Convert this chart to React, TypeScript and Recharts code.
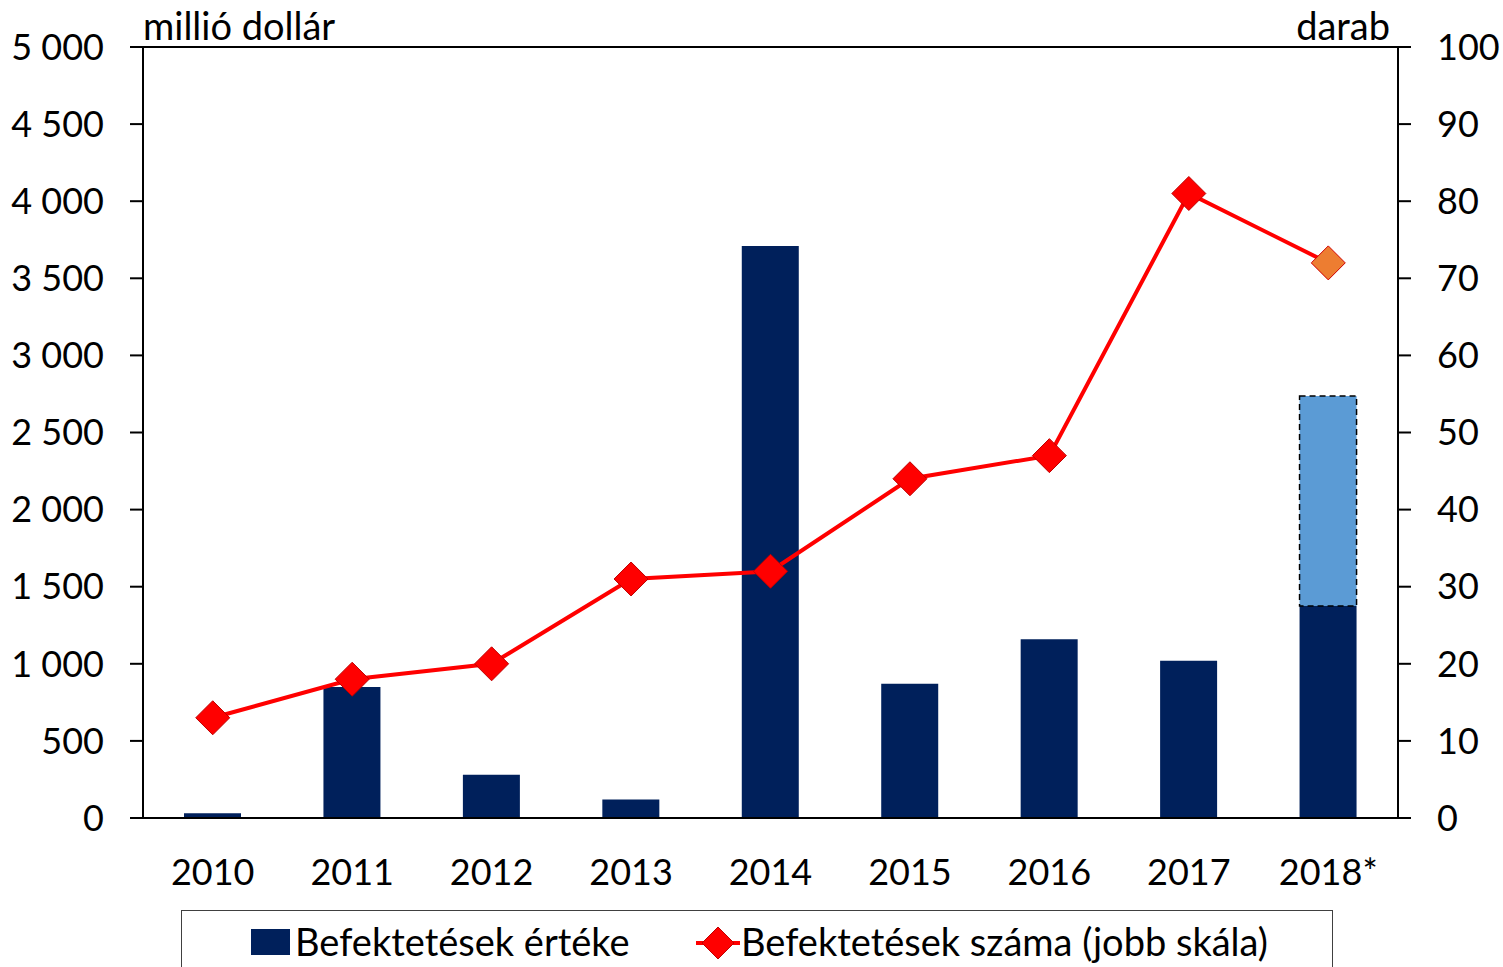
import {
  ComposedChart,
  Bar,
  Line,
  XAxis,
  YAxis,
  CartesianGrid,
  ReferenceLine,
} from 'recharts';

const years: string[] = ['2010', '2011', '2012', '2013', '2014', '2015', '2016', '2017', '2018*'];
// befektetések értéke, millió dollár
const investValue: number[] = [30, 850, 280, 120, 3710, 870, 1160, 1020, 1375];
// 2018 becsült többlet (szaggatott keretes rész)
const investEstimate: (number | null)[] = [null, null, null, null, null, null, null, null, 1362];
// befektetések száma, darab (jobb skála)
const investCount: number[] = [13, 18, 20, 31, 32, 44, 47, 81, 72];

const leftTicks: number[] = [0, 500, 1000, 1500, 2000, 2500, 3000, 3500, 4000, 4500, 5000];
const rightTicks: number[] = [0, 10, 20, 30, 40, 50, 60, 70, 80, 90, 100];

const data = years.map((year, i) => ({
  year,
  value: investValue[i],
  estimate: investEstimate[i],
  count: investCount[i],
}));

const FONT = 'Lato, "Open Sans", sans-serif';
const NAVY = '#00205B';
const RED = '#FF0000';

const fmtThousands = (v: number) => String(v).replace(/\B(?=(\d{3})+(?!\d))/g, ' ');

const Diamond = (props: any) => {
  const { cx, cy, index } = props;
  if (cx == null || cy == null) return null;
  const r = 17;
  const last = index === years.length - 1;
  return (
    <path
      key={`d-${index}`}
      d={`M${cx},${cy - r} L${cx + r},${cy} L${cx},${cy + r} L${cx - r},${cy} Z`}
      fill={last ? '#ED7D31' : RED}
      stroke={last ? '#D00000' : '#C00000'}
      strokeWidth={1}
    />
  );
};

const tickStyle = { fontSize: 36, fontFamily: FONT, fill: '#000' };

export default function App() {
  return (
    <div style={{ position: 'absolute', left: 0, top: 0, width: 1503, height: 967, background: '#fff', fontFamily: FONT }}>
      <ComposedChart
        width={1503}
        height={900}
        data={data}
        margin={{ top: 47, right: 0, bottom: 22, left: 0 }}
      >
        <CartesianGrid vertical={false} stroke="#BFBFBF" strokeDasharray="8 5" strokeWidth={1.5} />
        <XAxis
          dataKey="year"
          height={60}
          tickLine={false}
          tickSize={0}
          tickMargin={41}
          axisLine={{ stroke: '#000', strokeWidth: 2 }}
          tick={tickStyle}
          interval={0}
        />
        <YAxis
          yAxisId="left"
          width={143}
          domain={[0, 5000]}
          ticks={leftTicks}
          tickFormatter={fmtThousands}
          tickSize={13}
          tickMargin={26}
          tickLine={{ stroke: '#000', strokeWidth: 2 }}
          axisLine={{ stroke: '#000', strokeWidth: 2 }}
          tick={tickStyle}
          interval={0}
        />
        <YAxis
          yAxisId="right"
          orientation="right"
          width={105}
          domain={[0, 100]}
          ticks={rightTicks}
          tickSize={13}
          tickMargin={26}
          tickLine={{ stroke: '#000', strokeWidth: 2 }}
          axisLine={{ stroke: '#000', strokeWidth: 2 }}
          tick={{ ...tickStyle, textAnchor: 'start' }}
          interval={0}
        />
        <ReferenceLine yAxisId="left" y={5000} stroke="#000" strokeWidth={2} />
        <Bar yAxisId="left" dataKey="value" stackId="a" fill={NAVY} barSize={57} isAnimationActive={false} />
        <Bar
          yAxisId="left"
          dataKey="estimate"
          stackId="a"
          fill="#5B9BD5"
          stroke="#000"
          strokeWidth={1.5}
          strokeDasharray="6 4"
          barSize={57}
          isAnimationActive={false}
        />
        <Line
          yAxisId="right"
          dataKey="count"
          stroke={RED}
          strokeWidth={4}
          dot={<Diamond />}
          activeDot={false}
          isAnimationActive={false}
        />
      </ComposedChart>

      <div style={{ position: 'absolute', left: 143, top: 5, fontSize: 38, lineHeight: '40px' }}>millió dollár</div>
      <div style={{ position: 'absolute', right: 113, top: 5, fontSize: 38, lineHeight: '40px' }}>darab</div>

      <div
        style={{
          position: 'absolute',
          left: 181,
          top: 910,
          width: 1152,
          height: 70,
          border: '1.5px solid #404040',
          boxSizing: 'border-box',
          fontSize: 38,
        }}
      >
        <div style={{ position: 'absolute', left: 69, top: 18, width: 39, height: 26, background: NAVY }} />
        <div style={{ position: 'absolute', left: 113, top: 8, lineHeight: '44px' }}>Befektetések értéke</div>
        <svg style={{ position: 'absolute', left: 512, top: 14 }} width={48} height={36}>
          <line x1={2} y1={18} x2={46} y2={18} stroke={RED} strokeWidth={4} />
          <path d="M24,2 L40,18 L24,34 L8,18 Z" fill={RED} stroke="#C00000" strokeWidth={1} />
        </svg>
        <div style={{ position: 'absolute', left: 559, top: 8, lineHeight: '44px' }}>Befektetések száma (jobb skála)</div>
      </div>
    </div>
  );
}
